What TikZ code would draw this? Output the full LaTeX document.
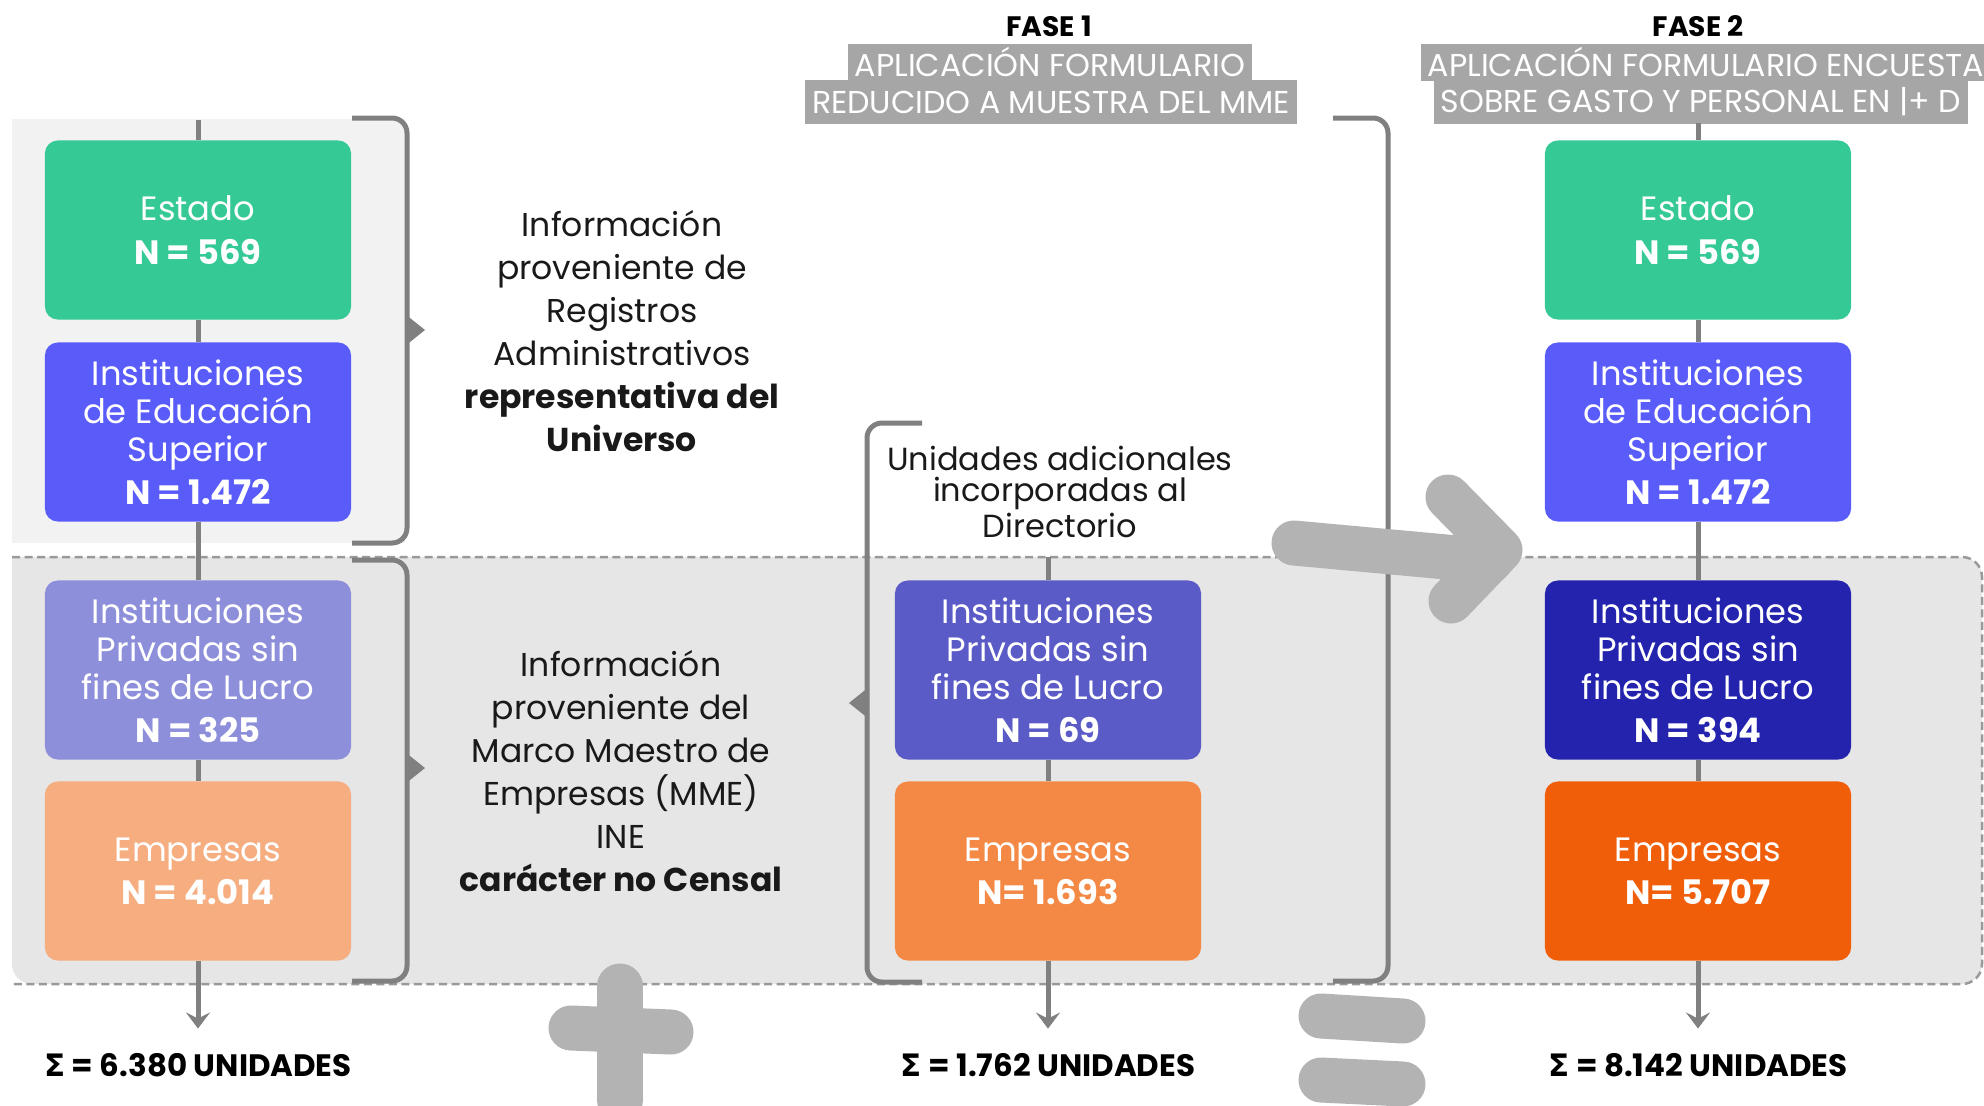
\documentclass[tikz,border=0pt]{standalone}
\usepackage{fontspec}
\setmainfont{Poppins}
\newfontfamily\sigmafont{DejaVu Sans}
\usetikzlibrary{arrows.meta,calc,positioning}
\definecolor{cEstado}{HTML}{34C995}
\definecolor{cIES}{HTML}{5A5CFA}
\definecolor{cIPSa}{HTML}{8E8FDA}
\definecolor{cEmpa}{HTML}{F6AD80}
\definecolor{cIPSb}{HTML}{5A5BC6}
\definecolor{cEmpb}{HTML}{F38945}
\definecolor{cIPSc}{HTML}{2323AE}
\definecolor{cEmpc}{HTML}{F15E0A}
\definecolor{lineg}{HTML}{808080}
\definecolor{bigg}{HTML}{B3B3B3}
\definecolor{bannerg}{HTML}{A6A6A6}
\definecolor{bgtop}{HTML}{F2F2F2}
\definecolor{bgmid}{HTML}{E6E6E6}
\def\xl{198}
\def\xm{1048}
\def\xr{1698}

\begin{document}
\begin{tikzpicture}
    [
        x=0.01cm, y=-0.01cm,
        mybox/.style={rectangle, rounded corners=0.13cm, minimum width=3.06cm, minimum height=1.79cm,
            inner sep=0pt, text=white, align=center, font=\fontsize{9.6}{10.8}\selectfont},
        mytext/.style={align=center, text=black!90, inner sep=0pt},
        mysum/.style={inner sep=0pt, font=\fontsize{8.8}{9}\selectfont\bfseries},
        myfase/.style={inner sep=0pt, font=\fontsize{8}{8}\selectfont\bfseries},
        myban/.style={fill=bannerg, text=white, inner xsep=0.07cm, inner ysep=0pt, font=\fontsize{9}{9}\selectfont},
        myline/.style={lineg, line width=0.05cm},
        myarrow/.style={myline, -{Stealth[length=0.16cm,width=0.24cm,inset=0.06cm]}, shorten >=0.24cm},
        mybrace/.style={lineg, line width=0.05cm, rounded corners=0.15cm},
        mysym/.style={bigg, line width=0.45cm, line cap=round, line join=round},
        dashline/.style={gray!80, line width=0.025cm, dash pattern=on 0.08cm off 0.045cm}
    ]
%    \draw[style=help lines,step=100] (0,0) grid (1984,1105);
    \fill[bgtop] (12,119) rectangle (405,543);
    \fill[bgmid] (12,557) [rounded corners=0.2cm] -- (1982,557) -- (1982,984) -- (12,984) [sharp corners] -- cycle;
    \draw[dashline] (12,557) [rounded corners=0.2cm] -- (1982,557) -- (1982,984) -- (12,984);

    % fases
    \node[myfase] (fase1) at (1049, 26) {FASE 1};
    \node[myban, minimum height=0.37cm] (ban1a) at (1050, 62) {APLICACIÓN FORMULARIO};
    \node[myban, minimum height=0.43cm] (ban1b) at (1051, 102) {REDUCIDO A MUESTRA DEL MME};
    \node[myfase] (fase2) at (\xr, 26) {FASE 2};
    \node[myban, minimum height=0.37cm] (ban2a) at (1706, 62) {APLICACIÓN FORMULARIO ENCUESTA};
    \node[myban, minimum height=0.43cm] (ban2b) at (1701, 102) {SOBRE GASTO Y PERSONAL EN |+ D};

    % left column
    \coordinate[] (ltop) at (\xl, 120);
    \node[mybox, fill=cEstado] (estL) at (\xl, 230) {Estado\\[1.5pt]\textbf{N = 569}};
    \node[mybox, fill=cIES] (iesL) at (\xl, 432) {Instituciones\\de Educación\\Superior\\[1.5pt]\textbf{N = 1.472}};
    \node[mybox, fill=cIPSa] (ipsL) at (\xl, 670) {Instituciones\\Privadas sin\\fines de Lucro\\[1.5pt]\textbf{N = 325}};
    \node[mybox, fill=cEmpa] (empL) at (\xl, 871) {Empresas\\[1.5pt]\textbf{N = 4.014}};
    \node[mysum] (sumL) at (\xl, 1065) {{\sigmafont Σ} = 6.380 UNIDADES};

    % middle column
    \coordinate[] (mtop) at (\xm, 557);
    \node[mybox, fill=cIPSb] (ipsM) at (\xm, 670) {Instituciones\\Privadas sin\\fines de Lucro\\[1.5pt]\textbf{N = 69}};
    \node[mybox, fill=cEmpb] (empM) at (\xm, 871) {Empresas\\[1.5pt]\textbf{N= 1.693}};
    \node[mysum] (sumM) at (\xm, 1065) {{\sigmafont Σ} = 1.762 UNIDADES};

    % right column
    \coordinate[] (rtop) at (\xr, 123);
    \node[mybox, fill=cEstado] (estR) at (\xr, 230) {Estado\\[1.5pt]\textbf{N = 569}};
    \node[mybox, fill=cIES] (iesR) at (\xr, 432) {Instituciones\\de Educación\\Superior\\[1.5pt]\textbf{N = 1.472}};
    \node[mybox, fill=cIPSc] (ipsR) at (\xr, 670) {Instituciones\\Privadas sin\\fines de Lucro\\[1.5pt]\textbf{N = 394}};
    \node[mybox, fill=cEmpc] (empR) at (\xr, 871) {Empresas\\[1.5pt]\textbf{N= 5.707}};
    \node[mysum] (sumR) at (\xr, 1065) {{\sigmafont Σ} = 8.142 UNIDADES};

    \draw[myline] (ltop) -- (estL);
    \draw[myline] (estL) -- (iesL);
    \draw[myline] (iesL) -- (ipsL);
    \draw[myline] (ipsL) -- (empL);
    \draw[myline] (mtop) -- (ipsM);
    \draw[myline] (ipsM) -- (empM);
    \draw[myline] (rtop) -- (estR);
    \draw[myline] (estR) -- (iesR);
    \draw[myline] (iesR) -- (ipsR);
    \draw[myline] (ipsR) -- (empR);
    \foreach \c in {L,M,R}
    {
        \draw[myarrow] (emp\c) -- (sum\c);
    }

    % texts
    \node[mytext, font=\fontsize{9.4}{12.2}\selectfont] (infoA) at (622, 331)
        {Información\\proveniente de\\Registros\\Administrativos\\\textbf{representativa del}\\\textbf{Universo}};
    \node[mytext, font=\fontsize{9.4}{12.2}\selectfont] (infoB) at (621, 771)
        {Información\\proveniente del\\Marco Maestro de\\Empresas (MME)\\INE\\\textbf{carácter no Censal}};
    \node[mytext, font=\fontsize{9.1}{9}\selectfont] (unid) at (1060, 492)
        {Unidades adicionales\\incorporadas al\\Directorio};

    % braces
    \draw[mybrace] (352,118) -- (407,118) -- (407,543) -- (352,543);
    \fill[lineg] (405,314) -- (425,330) -- (405,346) -- cycle;
    \draw[mybrace] (352,560) -- (407,560) -- (407,981) -- (352,981);
    \fill[lineg] (405,752) -- (425,768) -- (405,784) -- cycle;
    \draw[mybrace] (922,423) -- (867,423) -- (867,982) -- (922,982);
    \fill[lineg] (869,687) -- (849,703) -- (869,719) -- cycle;
    \draw[mybrace] (1333,118) -- (1388,118) -- (1388,981) -- (1333,981);

    % big arrow, plus, equal
    \draw[mysym] (1294,543) -- (1490,561);
    \draw[mysym] (1448,497) -- (1500,550) -- (1451,601);
    \draw[mysym] (620,986) -- (620,1100);
    \draw[mysym] (571,1028) -- (671,1032);
    \draw[mysym] (1321,1016) -- (1403,1021);
    \draw[mysym] (1321,1080) -- (1403,1084);

    \pgfresetboundingbox
    \useasboundingbox (0,0) rectangle (1984,1105);
\end{tikzpicture}
\end{document}
